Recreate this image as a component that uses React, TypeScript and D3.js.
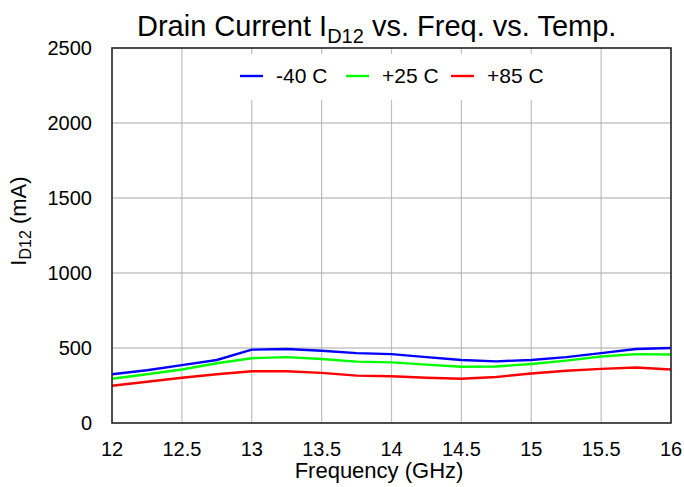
import React, { useEffect, useRef } from 'react'
import * as d3 from 'd3'

const freqs = [12, 12.25, 12.5, 12.75, 13, 13.25, 13.5, 13.75, 14, 14.25, 14.5, 14.75, 15, 15.25, 15.5, 15.75, 16]
const cold = [325, 352, 386, 420, 489, 493, 482, 466, 459, 439, 420, 411, 420, 439, 466, 493, 500]
const room = [295, 325, 357, 398, 432, 439, 427, 409, 404, 389, 375, 377, 393, 416, 443, 459, 457]
const hot = [248, 275, 302, 325, 345, 345, 334, 316, 312, 302, 295, 307, 330, 348, 361, 370, 357]
const seriesNames = ['-40 C', '+25 C', '+85 C']
const seriesColors = ['#0000ff', '#00ff00', '#ff0000']
const xTicks = [12, 12.5, 13, 13.5, 14, 14.5, 15, 15.5, 16]
const yTicks = [0, 500, 1000, 1500, 2000, 2500]

const W = 684, H = 487
const M = { top: 48, right: 13, bottom: 64, left: 112 }
const FONT = 'Liberation Sans, Arial, sans-serif'

export default function App() {
  const ref = useRef<SVGSVGElement>(null)

  useEffect(() => {
    const svg = d3.select(ref.current)
    svg.selectAll('*').remove()

    const x = d3.scaleLinear().domain([12, 16]).range([M.left, W - M.right])
    const y = d3.scaleLinear().domain([0, 2500]).range([H - M.bottom, M.top])

    // grid
    svg.append('g').selectAll('line').data(xTicks.slice(1, -1)).join('line')
      .attr('x1', d => x(d)).attr('x2', d => x(d))
      .attr('y1', y(0)).attr('y2', y(2500))
      .attr('stroke', '#c0c0c0').attr('stroke-width', 1.2)
    svg.append('g').selectAll('line').data(yTicks.slice(1, -1)).join('line')
      .attr('x1', x(12)).attr('x2', x(16))
      .attr('y1', d => y(d)).attr('y2', d => y(d))
      .attr('stroke', '#a8a8a8').attr('stroke-width', 1.2)

    // legend background box hides the grid
    svg.append('rect')
      .attr('x', 232).attr('y', 54).attr('width', 336).attr('height', 46)
      .attr('fill', '#fff')

    const line = d3.line<number>()
      .x((_, i) => x(freqs[i]))
      .y(d => y(d))

    ;[cold, room, hot].forEach((s, i) => {
      svg.append('path').datum(s)
        .attr('d', line)
        .attr('fill', 'none')
        .attr('stroke', seriesColors[i])
        .attr('stroke-width', 2.4)
    })

    // frame
    svg.append('rect')
      .attr('x', x(12)).attr('y', y(2500))
      .attr('width', x(16) - x(12)).attr('height', y(0) - y(2500))
      .attr('fill', 'none').attr('stroke', '#222').attr('stroke-width', 1.6)

    // tick labels
    svg.append('g').selectAll('text').data(xTicks).join('text')
      .attr('x', d => x(d)).attr('y', y(0) + 33)
      .attr('text-anchor', 'middle')
      .style('font-family', FONT).style('font-size', '20px')
      .text(d => String(d))
    svg.append('g').selectAll('text').data(yTicks).join('text')
      .attr('x', x(12) - 20).attr('y', d => y(d) + 7)
      .attr('text-anchor', 'end')
      .style('font-family', FONT).style('font-size', '20px')
      .text(d => String(d))

    // axis titles
    svg.append('text')
      .attr('x', 379).attr('y', H - 9)
      .attr('text-anchor', 'middle')
      .style('font-family', FONT).style('font-size', '22px')
      .text('Frequency (GHz)')

    const yl = svg.append('text')
      .attr('transform', `translate(26,221) rotate(-90)`)
      .attr('text-anchor', 'middle')
      .style('font-family', FONT).style('font-size', '22px')
    yl.append('tspan').text('I')
    yl.append('tspan').attr('dy', 5).style('font-size', '16px').text('D12')
    yl.append('tspan').attr('dy', -5).text(' (mA)')

    // title
    const t = svg.append('text')
      .attr('x', 137).attr('y', 36)
      .style('font-family', FONT).style('font-size', '29px')
    t.append('tspan').text('Drain Current I')
    t.append('tspan').attr('dy', 7).style('font-size', '20px').text('D12')
    t.append('tspan').attr('dy', -7).text(' vs. Freq. vs. Temp.')

    // legend
    const lx = [240, 346, 451]
    seriesNames.forEach((n, i) => {
      svg.append('line')
        .attr('x1', lx[i]).attr('x2', lx[i] + 23)
        .attr('y1', 76).attr('y2', 76)
        .attr('stroke', seriesColors[i]).attr('stroke-width', 2.4)
      svg.append('text')
        .attr('x', lx[i] + 36).attr('y', 83)
        .style('font-family', FONT).style('font-size', '21px')
        .text(n)
    })
  }, [])

  return (
    <svg ref={ref} width={W} height={H}
      style={{ position: 'absolute', left: 0, top: 0, background: '#fff' }} />
  )
}
